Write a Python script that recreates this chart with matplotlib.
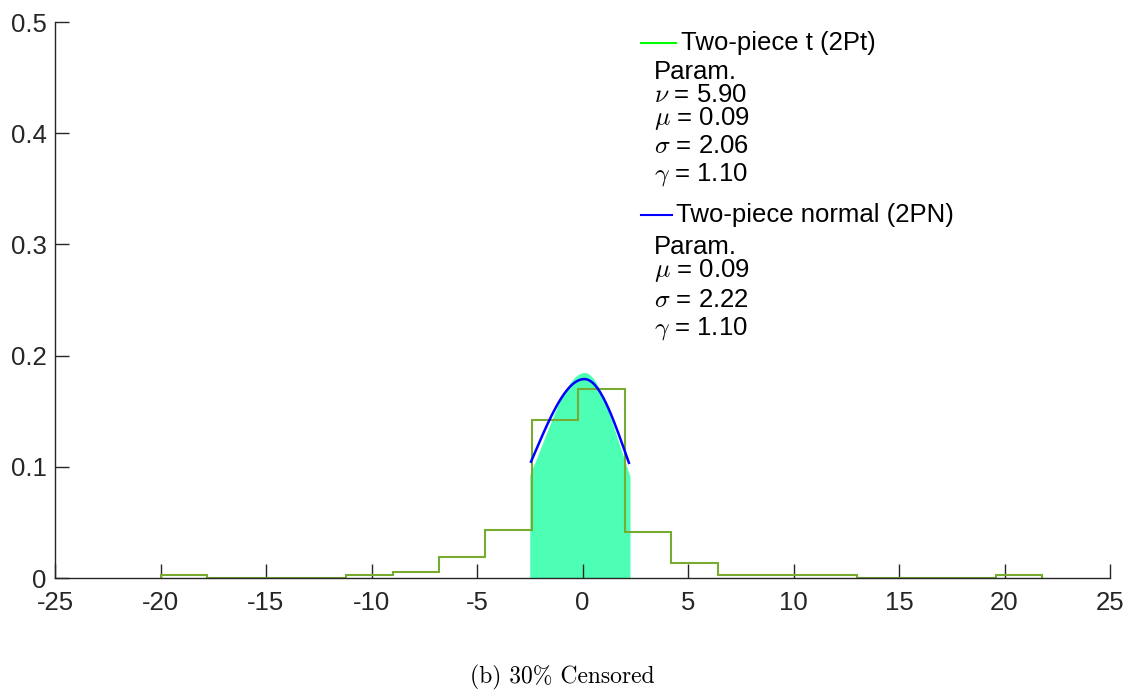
import numpy as np
import matplotlib
matplotlib.use("Agg")
import matplotlib.pyplot as plt
from math import gamma as G

plt.rcParams['font.family'] = ['Liberation Sans', 'DejaVu Sans']
plt.rcParams['mathtext.fontset'] = 'cm'
plt.rcParams['axes.unicode_minus'] = False

# Histogram (density) of observed data
bin_edges = [-20.0, -17.8, -15.6, -13.4, -11.2, -9.0, -6.8, -4.6, -2.4, -0.2,
             2.0, 4.2, 6.4, 8.6, 10.8, 13.0, 15.2, 17.4, 19.6, 21.8]
bin_density = [0.0027, 0.0, 0.0, 0.0, 0.0025, 0.0050, 0.0190, 0.0436, 0.1425, 0.1696,
               0.0410, 0.0137, 0.0027, 0.0027, 0.0027, 0.0, 0.0, 0.0, 0.0027]

# Fitted parameters (shown in chart)
t_params = dict(nu=5.90, mu=0.09, sigma=2.06, gam=1.10)
n_params = dict(mu=0.09, sigma=2.22, gam=1.10)
censor_lo, censor_hi = -2.5, 2.25

xticks = [-25, -20, -15, -10, -5, 0, 5, 10, 15, 20, 25]
yticks = [0, 0.1, 0.2, 0.3, 0.4, 0.5]


def two_piece_t(x, nu, mu, sigma, gam):
    c = G((nu + 1) / 2) / (np.sqrt(nu * np.pi) * G(nu / 2))
    s = np.where(x < mu, sigma * gam, sigma / gam)
    z = (x - mu) / s
    return 2 / (gam + 1 / gam) * c * (1 + z**2 / nu) ** (-(nu + 1) / 2) / sigma


def two_piece_n(x, mu, sigma, gam):
    s = np.where(x < mu, sigma * gam, sigma / gam)
    z = (x - mu) / s
    return 2 / (gam + 1 / gam) * np.exp(-0.5 * z**2) / (np.sqrt(2 * np.pi) * sigma)


fig = plt.figure(figsize=(11.4, 6.91), dpi=100)
ax = fig.add_axes([55 / 1140, 1 - 578 / 691, 1055 / 1140, 556 / 691])

xs = np.linspace(censor_lo, censor_hi, 300)
ax.fill_between(xs, 0, two_piece_t(xs, **t_params), color='#4dffb4', lw=0, zorder=1)

ax.stairs(bin_density, bin_edges, color='#77ac30', lw=1.5, zorder=2)

xb = np.linspace(-2.44, 2.2, 300)
ax.plot(xb, two_piece_n(xb, **n_params), color='#0000ff', lw=1.8, zorder=3)

ax.set_xlim(-25, 25)
ax.set_ylim(0, 0.5)
ax.set_xticks(xticks)
ax.set_yticks(yticks)
ax.set_xticklabels([str(v) for v in xticks])
ax.set_yticklabels(['0'] + [f'{v:.1f}' for v in yticks[1:]])
for sp in ['top', 'right']:
    ax.spines[sp].set_visible(False)
for sp in ['left', 'bottom']:
    ax.spines[sp].set_color('#262626')
    ax.spines[sp].set_linewidth(1.0)
ax.tick_params(direction='in', length=10, width=1.0, colors='#262626',
               labelsize=18.5, pad=6)
ax.tick_params(axis='x', pad=9)

# Legend-like annotations (pixel coordinates)
def px(x, y):
    return x / 1140, 1 - y / 691

fs = 18.5
fig.add_artist(plt.Line2D([641 / 1140, 676 / 1140], [1 - 43 / 691] * 2,
                          color='#00ff00', lw=1.5))
fig.text(*px(681, 43), 'Two-piece t (2Pt)', fontsize=fs, va='center')
fig.text(*px(654, 72), 'Param.', fontsize=fs, va='center')
fig.text(*px(654, 95), r'$\nu$ = 5.90', fontsize=fs, va='center')
fig.text(*px(654, 118), r'$\mu$ = 0.09', fontsize=fs, va='center')
fig.text(*px(654, 146), r'$\sigma$ = 2.06', fontsize=fs, va='center')
fig.text(*px(654, 174), r'$\gamma$ = 1.10', fontsize=fs, va='center')

fig.add_artist(plt.Line2D([641 / 1140, 672 / 1140], [1 - 215 / 691] * 2,
                          color='#0000ff', lw=1.5))
fig.text(*px(676, 215), 'Two-piece normal (2PN)', fontsize=fs, va='center')
fig.text(*px(654, 247), 'Param.', fontsize=fs, va='center')
fig.text(*px(654, 270), r'$\mu$ = 0.09', fontsize=fs, va='center')
fig.text(*px(654, 300), r'$\sigma$ = 2.22', fontsize=fs, va='center')
fig.text(*px(654, 328), r'$\gamma$ = 1.10', fontsize=fs, va='center')

fig.text(*px(562, 677), '(b) 30% Censored', fontsize=17, va='center', ha='center',
         family=['cmr10', 'DejaVu Serif'])

fig.savefig('out.png', dpi=100)
